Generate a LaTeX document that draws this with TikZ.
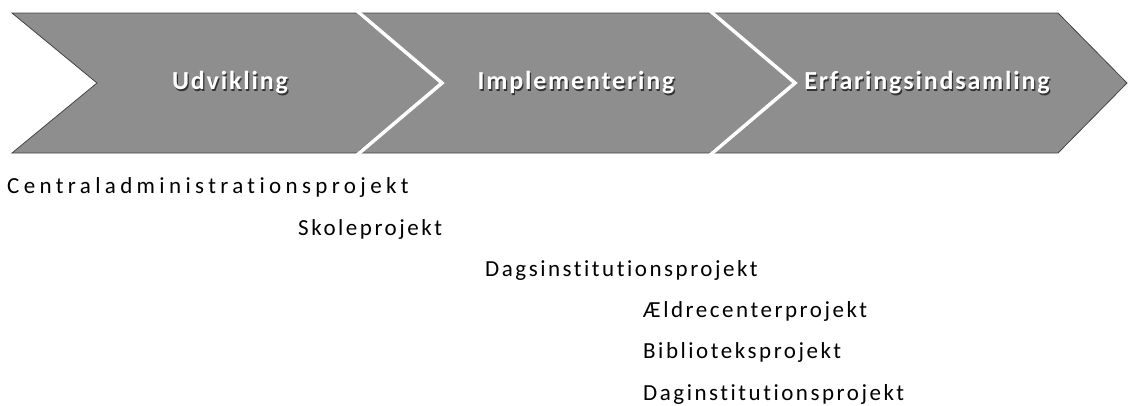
\documentclass[tikz,border=0pt]{standalone}
\usepackage{fontspec}
\setmainfont{Carlito}
\newfontfamily\hdfont[LetterSpace=7,Ligatures=NoCommon]{Carlito}
\newfontfamily\lbfont[LetterSpace=11,Ligatures=NoCommon]{Carlito}
\newfontfamily\lbwidefont[LetterSpace=19,Ligatures=NoCommon]{Carlito}
\definecolor{chevfill}{RGB}{142,142,142}
\definecolor{chevedge}{RGB}{70,70,70}
\tikzset{
  chev/.style={fill=chevfill, draw=chevedge, line width=0.8pt, line join=miter},
  sep/.style={draw=white, line width=3.5pt},
  hdtext/.style={font=\hdfont\bfseries\fontsize{26}{30}\selectfont, text=white, inner sep=0pt},
  hdshadow/.style={font=\hdfont\bfseries\fontsize{26}{30}\selectfont, text=black!80, inner sep=0pt},
  lbl/.style={font=\lbfont\fontsize{23}{27}\selectfont, text=black, inner sep=0pt, anchor=base west},
  lblwide/.style={lbl, font=\lbwidefont\fontsize{23}{27}\selectfont}
}
\begin{document}
\begin{tikzpicture}[x=1pt,y=-1pt]
\useasboundingbox (0,0) rectangle (1129,405);
% chevrons
\path[chev] (12,13) -- (357,13) -- (442,83) -- (357,153) -- (12,153) -- (97,83) -- cycle;
\path[chev] (357,13) -- (710,13) -- (795,83) -- (710,153) -- (357,153) -- (442,83) -- cycle;
\path[chev] (710,13) -- (1058,13) -- (1127,83) -- (1058,153) -- (710,153) -- (795,83) -- cycle;
\draw[sep] (357,11) -- (442,83) -- (357,155);
\draw[sep] (710,11) -- (795,83) -- (710,155);
% header labels
\node[hdshadow] at (231.2,84.2) {Udvikling};
\node[hdtext] (h1) at (230,83) {Udvikling};
\node[hdshadow] at (577.2,84.2) {Implementering};
\node[hdtext] (h2) at (576,83) {Implementering};
\node[hdshadow] at (928.2,84.2) {Erfaringsindsamling};
\node[hdtext] (h3) at (927,83) {Erfaringsindsamling};
% project labels
\node[lblwide] (p1) at (7,193) {Centraladministrationsprojekt};
\node[lbl] (p2) at (298,235) {Skoleprojekt};
\node[lbl] (p3) at (485,276) {Dagsinstitutionsprojekt};
\node[lbl] (p4) at (643,317) {Ældrecenterprojekt};
\node[lbl] (p5) at (643,358) {Biblioteksprojekt};
\node[lbl] (p6) at (643,400) {Daginstitutionsprojekt};
\end{tikzpicture}
\end{document}
